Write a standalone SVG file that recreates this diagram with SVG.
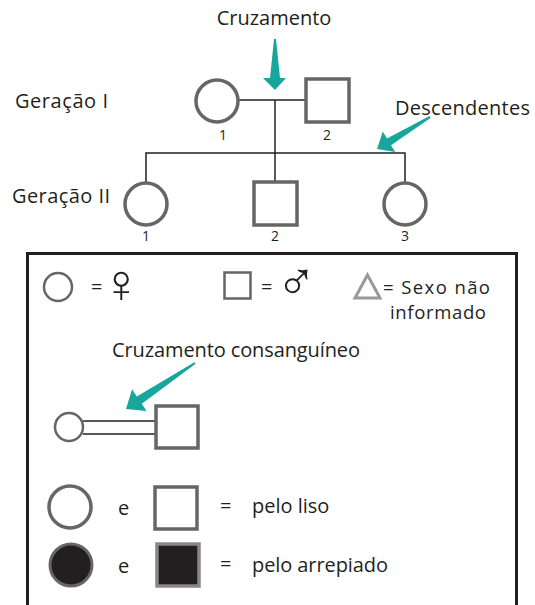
<svg xmlns="http://www.w3.org/2000/svg" width="535" height="605" viewBox="0 0 535 605">
<style>
text{font-family:"Open Sans","Liberation Sans",sans-serif;fill:#231f20;font-size:20px}
.num{font-size:14px;text-anchor:middle}
.sym{font-family:"Liberation Sans","DejaVu Sans",sans-serif;font-size:54px}
.sm{font-size:18.5px}
.node{fill:#fff;stroke:#666;stroke-width:3.5}
.leg{fill:#fff;stroke:#666;stroke-width:2.5}
.line{stroke:#231f20;stroke-width:1.5;fill:none}
.arrow{fill:#17a69b}
</style>
<rect width="535" height="605" fill="#fff"/>
<g id="labels">
<text x="274" y="25" text-anchor="middle">Cruzamento</text>
<text x="15" y="108" textLength="93">Geração I</text>
<text x="12" y="203" textLength="98">Geração II</text>
<text x="395" y="115" textLength="135">Descendentes</text>
</g>
<g id="connectors">
<line class="line" x1="239" y1="100" x2="306" y2="100"/>
<line class="line" x1="275" y1="100" x2="275" y2="153"/>
<polyline class="line" points="146,182 146,153 405,153 405,182"/>
<line class="line" x1="275" y1="153" x2="275" y2="182"/>
<polygon class="arrow" points="274,39 276,39 280,78 286,78 275,90 263,78 270,78"/>
<polygon class="arrow" points="430.5,117.9 391,145.2 395.2,152.1 377,149 382.8,131.5 387,138.4 429.5,116.1"/>
</g>
<g id="I-1"><circle class="node" cx="217" cy="101" r="21"/><text class="num" x="223" y="140">1</text></g>
<g id="I-2"><rect class="node" x="306" y="79" width="43" height="43"/><text class="num" x="327" y="140">2</text></g>
<g id="II-1"><circle class="node" cx="146" cy="204" r="21"/><text class="num" x="146" y="241">1</text></g>
<g id="II-2"><rect class="node" x="254" y="182" width="43" height="43"/><text class="num" x="275" y="241">2</text></g>
<g id="II-3"><circle class="node" cx="405" cy="204" r="21"/><text class="num" x="405" y="241">3</text></g>
<g id="legend">
<rect x="27.5" y="253.5" width="489" height="360" fill="none" stroke="#231f20" stroke-width="3"/>
<circle class="leg" cx="58" cy="287" r="14"/>
<text x="91" y="294">=</text>
<text class="sym" x="101" y="302">♀</text>
<rect class="leg" x="224.5" y="272.5" width="26" height="26"/>
<text x="261" y="294">=</text>
<text class="sym" x="276" y="300">♂</text>
<polygon points="367.5,275 380,298 355,298" fill="none" stroke="#999" stroke-width="3" stroke-linejoin="miter"/>
<text class="sm" x="383" y="294" textLength="107">= Sexo não</text>
<text class="sm" x="390" y="319" textLength="96">informado</text>
<text x="112" y="357" textLength="248">Cruzamento consanguíneo</text>
<polygon class="arrow" points="195.6,363.8 141.8,403.8 146.5,410.9 126,409 132.1,389.3 136.8,396.4 194.4,362.2"/>
<line class="line" x1="83" y1="421" x2="156" y2="421"/>
<line class="line" x1="83" y1="434" x2="156" y2="434"/>
<circle class="leg" cx="69" cy="427" r="14"/>
<rect class="node" x="156" y="406" width="42" height="42"/>
<circle class="node" cx="70" cy="507" r="21"/>
<text x="118" y="515">e</text>
<rect class="node" x="155" y="487" width="42" height="42"/>
<text x="220" y="513">=</text>
<text x="252" y="513">pelo liso</text>
<circle cx="71" cy="565" r="21" fill="#231f20" stroke="#666" stroke-width="3"/>
<text x="118" y="573">e</text>
<rect x="157" y="544" width="42" height="42" fill="#231f20" stroke="#888" stroke-width="3.5"/>
<text x="220" y="571">=</text>
<text x="252" y="572" textLength="136">pelo arrepiado</text>
</g>
</svg>
